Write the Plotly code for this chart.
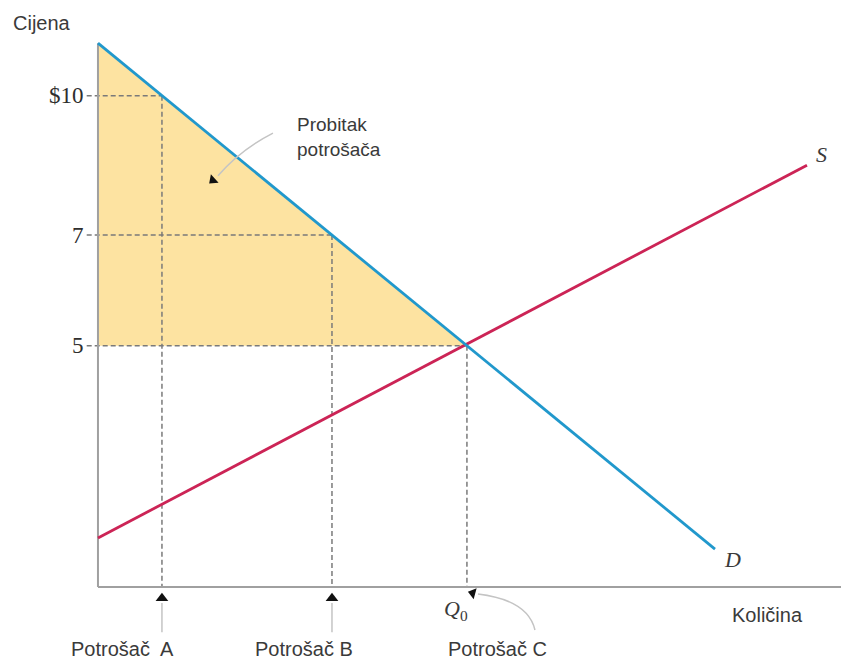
import numpy as np
import plotly.graph_objects as go

# ---- data (diagram units) ----
demand_q = [0.0, 82.16]
demand_p = [11.19, 0.78]
supply_q = [0.0, 94.41]
supply_p = [1.01, 8.68]
consumer_names = ["Potrošač\u00a0 A", "Potrošač B", "Potrošač C"]
consumer_q = [8.52, 31.16, 49.13]
price_labels = ["$10", "7", "5"]
axis_q_max = 100.0

# consumer prices read on the demand curve
consumer_p = list(np.interp(consumer_q, demand_q, demand_p))
q0 = consumer_q[2]
p0 = consumer_p[2]

GRAY_TXT = "#3a3a3a"
SANS = "Liberation Sans, Arial, sans-serif"
SERIF = "Liberation Serif, Times New Roman, serif"

fig = go.Figure()

# consumer surplus triangle
fig.add_trace(go.Scatter(
    x=[demand_q[0], q0, 0.0, demand_q[0]],
    y=[demand_p[0], p0, p0, demand_p[0]],
    fill="toself", fillcolor="#FDE3A1", line=dict(width=0),
    mode="lines", hoverinfo="skip"))

# dashed guide lines
for q, p in zip(consumer_q, consumer_p):
    fig.add_trace(go.Scatter(x=[-1.5, q], y=[p, p], mode="lines",
                             line=dict(color="#7a7a7a", width=1.5, dash="5px,3px"),
                             hoverinfo="skip"))
    fig.add_trace(go.Scatter(x=[q, q], y=[p, 0], mode="lines",
                             line=dict(color="#7a7a7a", width=1.5, dash="5px,3px"),
                             hoverinfo="skip"))

# axes lines
fig.add_trace(go.Scatter(x=[0, 0], y=[0, demand_p[0]], mode="lines",
                         line=dict(color="#a0a0a0", width=2), hoverinfo="skip"))
fig.add_trace(go.Scatter(x=[0, axis_q_max], y=[0, 0], mode="lines",
                         line=dict(color="#a0a0a0", width=2), hoverinfo="skip"))

# supply and demand
fig.add_trace(go.Scatter(x=supply_q, y=supply_p, mode="lines",
                         line=dict(color="#CC2456", width=2.8), hoverinfo="skip"))
fig.add_trace(go.Scatter(x=demand_q, y=demand_p, mode="lines",
                         line=dict(color="#2198CC", width=2.8), hoverinfo="skip"))

# arrows under the axis for consumers A and B
for q in consumer_q[:2]:
    fig.add_trace(go.Scatter(x=[q, q], y=[-0.33, -0.93], mode="lines",
                             line=dict(color="#c4c4c4", width=1.5), hoverinfo="skip"))
fig.add_trace(go.Scatter(x=consumer_q[:2], y=[-0.23, -0.23], mode="markers",
                         marker=dict(symbol="triangle-up", size=11, color="#111"),
                         hoverinfo="skip"))

# curved arrows
fig.add_shape(type="path", xref="x", yref="y",
              path="M 58.19,-0.885 Q 57.26,-0.267 50.6,-0.144",
              line=dict(color="#c4c4c4", width=1.5))
fig.add_shape(type="path", xref="x", yref="y",
              path="M 23.3,9.34 Q 18.9,8.99 15.98,8.46",
              line=dict(color="#c4c4c4", width=1.5))
fig.add_trace(go.Scatter(x=[49.9, 15.3], y=[-0.125, 8.37], mode="markers",
                         marker=dict(symbol="triangle-up", size=10, color="#111",
                                     angle=[285, 228]),
                         hoverinfo="skip"))

ann = []
# price tick labels
for lab, p in zip(price_labels, consumer_p):
    ann.append(dict(x=-1.6, y=p, text=lab, xanchor="right", yanchor="middle",
                    font=dict(family=SERIF, size=23, color="#2e2e2e")))
# consumer labels
for name, cx in zip(consumer_names, [3.2, 27.43, 53.26]):
    ann.append(dict(x=cx, y=-1.27, text=name, xanchor="center", yanchor="middle",
                    font=dict(family=SANS, size=20, color=GRAY_TXT)))
ann += [
    dict(x=-7.46, y=11.6, text="Cijena", xanchor="center", yanchor="middle",
         font=dict(family=SANS, size=20, color=GRAY_TXT)),
    dict(x=26.23, y=9.27, text="Probitak<br>potrošača", xanchor="left", yanchor="middle",
         align="left", font=dict(family=SANS, size=19, color=GRAY_TXT)),
    dict(x=96.4, y=8.89, text="<i>S</i>", xanchor="center", yanchor="middle",
         font=dict(family=SERIF, size=22, color=GRAY_TXT)),
    dict(x=84.55, y=0.556, text="<i>D</i>", xanchor="center", yanchor="middle",
         font=dict(family=SERIF, size=22, color=GRAY_TXT)),
    dict(x=47.67, y=-0.47, text="<i>Q</i><sub>0</sub>", xanchor="center", yanchor="middle",
         font=dict(family=SERIF, size=22, color=GRAY_TXT)),
    dict(x=89.2, y=-0.576, text="Količina", xanchor="center", yanchor="middle",
         font=dict(family=SANS, size=20, color=GRAY_TXT)),
]
for a in ann:
    a.update(xref="x", yref="y", showarrow=False)

fig.update_layout(
    width=849, height=661,
    margin=dict(l=0, r=0, t=0, b=0),
    paper_bgcolor="white", plot_bgcolor="white",
    showlegend=False,
    xaxis=dict(visible=False, range=[-11.98, 101.07]),
    yaxis=dict(visible=False, range=[-1.687, 11.914]),
    annotations=ann,
)

fig.write_html("out.html")
